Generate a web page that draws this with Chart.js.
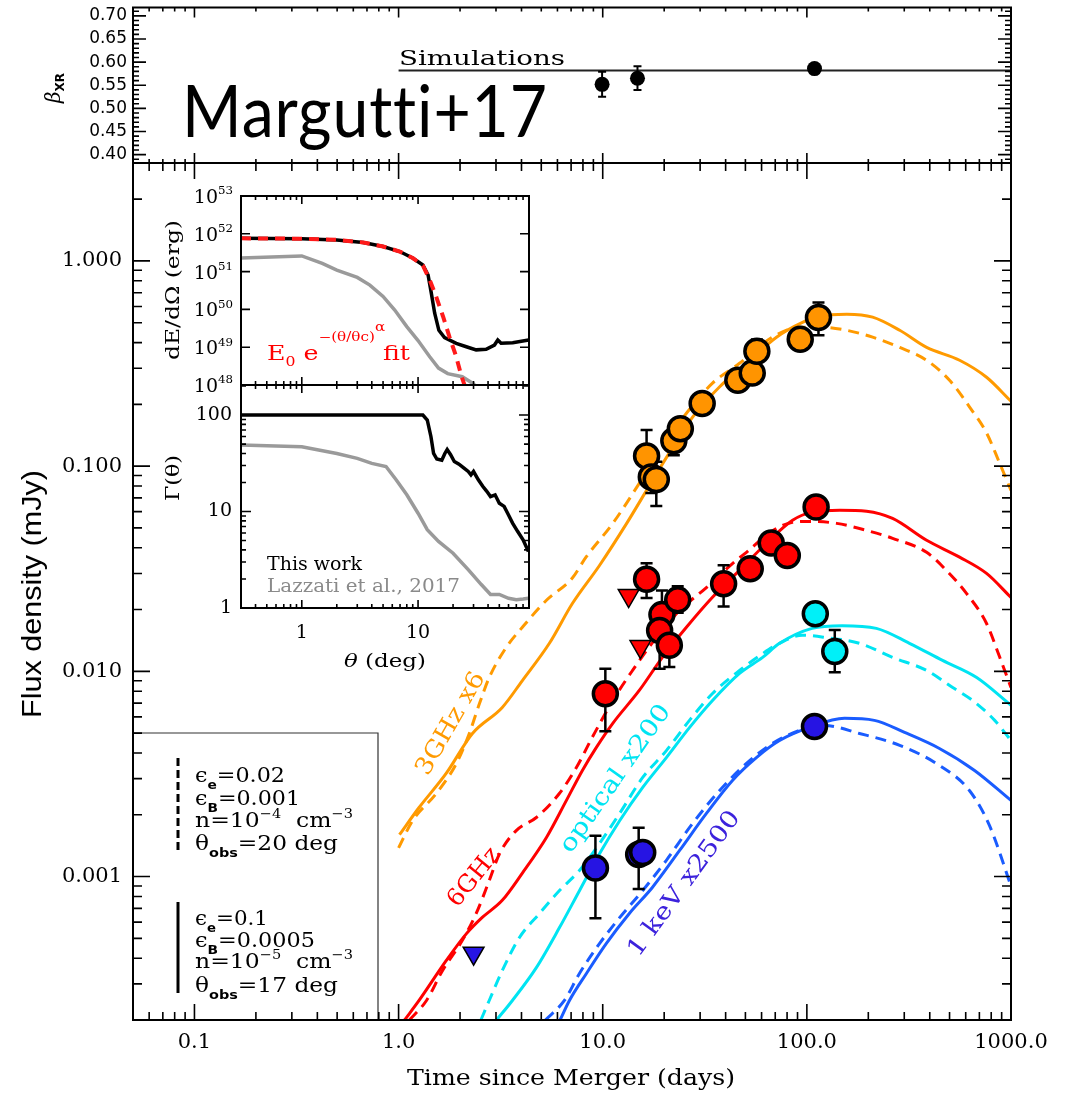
<!DOCTYPE html>
<html>
<head>
<meta charset="utf-8">
<title>GW170817 afterglow light curves</title>
<script src="https://cdn.jsdelivr.net/npm/chart.js@4.4.1/dist/chart.umd.min.js"></script>
<style>
  body { margin: 0; background: #fff; }
  #wrap { position: relative; width: 1078px; height: 1094px; }
  #wrap canvas { position: absolute; left: 0; top: 0; }
</style>
</head>
<body>
<div id="wrap">
  <canvas id="lightCurves" width="1078" height="1094"></canvas>
  <canvas id="betaPanel" width="1078" height="1094"></canvas>
  <canvas id="energyPanel" width="1078" height="1094"></canvas>
  <canvas id="lorentzPanel" width="1078" height="1094"></canvas>
</div>
<script>
var W = 1078, H = 1094;
var SERIF = 'DejaVu Serif';

// ---- observations: days since merger, flux density (mJy) ----
var radio3Days = [16.4, 17.3, 18.3, 22.3, 24.0, 30.7, 45.9, 54.0, 56.9, 92.8, 114];
var radio3Flux = [0.112, 0.0885, 0.086, 0.133, 0.152, 0.202, 0.262, 0.284, 0.363, 0.415, 0.530];
var radio3Lo   = [0.085, 0.074, 0.064, 0.113, null, null, null, null, 0.340, null, 0.434];
var radio3Hi   = [0.150, 0.100, 0.105, 0.152, null, null, null, null, 0.414, null, 0.627];

var radio6Days = [10.3, 16.4, 19.5, 19.0, 23.3, 21.2, 39.1, 52.8, 66.9, 80.2, 111];
var radio6Flux = [0.00778, 0.0281, 0.0189, 0.0158, 0.0223, 0.0134, 0.0267, 0.0316, 0.0422, 0.0367, 0.0632];
var radio6Lo   = [0.0051, 0.0228, null, 0.0103, 0.0193, 0.0105, 0.0207, 0.0295, null, null, null];
var radio6Hi   = [0.0103, 0.0336, 0.0248, null, 0.0260, null, 0.0329, 0.0340, null, null, null];
var radio6LimDays = [13.4, 15.3];
var radio6LimFlux = [0.0234, 0.0132];

var opticalDays = [110, 137];
var opticalFlux = [0.0191, 0.0125];
var opticalLo   = [null, 0.0099];
var opticalHi   = [null, 0.0159];

var xrayDays = [9.21, 15.0, 15.7, 109];
var xrayFlux = [0.00110, 0.00128, 0.00131, 0.00538];
var xrayLo   = [0.000626, 0.00087, null, null];
var xrayHi   = [0.00158, 0.00173, null, null];
var xrayLimDays = [2.33];
var xrayLimFlux = [0.000423];

// ---- model light curves (solid: this work, dashed: alternative parameters) ----
var orangeSolidDays = [1.01, 1.26, 1.71, 2.30, 3.22, 4.04, 5.48, 7.10, 9.64, 13.1, 16.4, 20.5, 27.5, 37.3, 50.6, 71.0, 95.2, 115, 157, 210, 285, 386, 560, 759, 1000];
var orangeSolidFlux = [0.0016, 0.00217, 0.00318, 0.00498, 0.00667, 0.00902, 0.0137, 0.0214, 0.0328, 0.0526, 0.0762, 0.110, 0.173, 0.243, 0.317, 0.425, 0.502, 0.537, 0.550, 0.532, 0.459, 0.379, 0.328, 0.271, 0.207];
var orangeDashDays = [1.0, 1.17, 1.53, 1.92, 2.22, 2.49, 2.78, 3.37, 4.04, 5.30, 7.10, 8.28, 11.2, 15.1, 19.0, 25.7, 34.4, 46.8, 67.8, 92.1, 119, 157, 210, 285, 386, 500, 627, 759, 881, 1000];
var orangeDashFlux = [0.00138, 0.00187, 0.00254, 0.00356, 0.00498, 0.00697, 0.00933, 0.0131, 0.0164, 0.0222, 0.0285, 0.036, 0.0526, 0.0824, 0.119, 0.181, 0.253, 0.317, 0.425, 0.475, 0.475, 0.459, 0.425, 0.379, 0.328, 0.262, 0.194, 0.145, 0.103, 0.0762];

var redSolidDays = [1.07, 1.26, 1.71, 2.15, 2.57, 3.22, 4.04, 5.30, 6.64, 7.95, 9.31, 11.2, 15.1, 19.6, 25.7, 34.4, 45.2, 63.4, 85.1, 106, 145, 196, 263, 386, 560, 759, 1000];
var redSolidFlux = [0.0002, 0.000249, 0.000389, 0.000527, 0.000632, 0.000766, 0.00104, 0.00155, 0.00235, 0.00329, 0.00426, 0.00558, 0.00807, 0.0117, 0.0164, 0.0229, 0.030, 0.0421, 0.0545, 0.0597, 0.061, 0.0603, 0.0556, 0.0435, 0.036, 0.030, 0.0229];
var redDashDays = [1.13, 1.37, 1.64, 2.05, 2.40, 2.78, 3.12, 3.78, 4.73, 6.13, 7.43, 8.89, 11.2, 14.0, 18.3, 23.8, 32.2, 43.2, 50.6, 68.2, 85.1, 103, 140, 196, 263, 386, 483, 605, 759, 881, 1000];
var redDashFlux = [0.0002, 0.000249, 0.000348, 0.000488, 0.000661, 0.000955, 0.00129, 0.00168, 0.00194, 0.00254, 0.0034, 0.00477, 0.00721, 0.0101, 0.0146, 0.0198, 0.0256, 0.0335, 0.038, 0.0486, 0.0532, 0.0538, 0.0526, 0.0486, 0.0445, 0.038, 0.031, 0.024, 0.0171, 0.0117, 0.00834];

var cyanSolidDays = [3.02, 3.61, 4.73, 6.14, 7.69, 9.64, 12.1, 15.7, 20.5, 26.6, 34.5, 46.8, 60.7, 73.5, 106, 149, 219, 318, 462, 679, 1000];
var cyanSolidFlux = [0.0002, 0.000249, 0.00036, 0.000564, 0.000853, 0.00129, 0.00187, 0.00272, 0.0038, 0.00532, 0.00721, 0.00977, 0.0117, 0.0137, 0.0162, 0.0167, 0.0162, 0.0137, 0.0113, 0.00933, 0.00683];
var cyanDashDays = [2.53, 2.78, 3.22, 3.91, 4.90, 6.14, 7.69, 9.64, 12.1, 15.7, 20.5, 26.6, 34.5, 46.8, 60.7, 73.5, 95.1, 125, 181, 263, 386, 518, 649, 832, 1000];
var cyanDashFlux = [0.0002, 0.000249, 0.000348, 0.000505, 0.000661, 0.000855, 0.00107, 0.00145, 0.00203, 0.00304, 0.00411, 0.00577, 0.0078, 0.0101, 0.0122, 0.0137, 0.015, 0.0146, 0.0137, 0.0117, 0.0101, 0.00834, 0.00721, 0.00577, 0.0046];

var blueSolidDays = [6.18, 6.87, 8.32, 10.4, 13.5, 17.5, 23.8, 32.2, 43.2, 56.6, 73.5, 103, 153, 214, 301, 446, 663, 1000];
var blueSolidFlux = [0.0002, 0.000249, 0.000337, 0.000471, 0.000661, 0.000885, 0.00134, 0.00203, 0.00294, 0.0038, 0.0046, 0.00533, 0.0059, 0.00577, 0.00504, 0.00421, 0.00329, 0.00235];
var blueDashDays = [5.24, 6.49, 7.69, 9.64, 12.1, 15.7, 20.5, 27.5, 37.3, 50.6, 67.8, 92.1, 122, 181, 285, 446, 627, 785, 1000];
var blueDashFlux = [0.0002, 0.000249, 0.000337, 0.000471, 0.000631, 0.000855, 0.0012, 0.00181, 0.00262, 0.00356, 0.00445, 0.00515, 0.00545, 0.00498, 0.00436, 0.00348, 0.00262, 0.00177, 0.0009];

// ---- spectral index panel ----
var betaDays = [9.93, 14.8, 109];
var betaValues = [0.552, 0.565, 0.586];
var betaLo = [0.525, 0.540, 0.580];
var betaHi = [0.579, 0.591, 0.592];
var simDays = [1, 1000];
var simBeta = [0.582, 0.582];
var betaTicks = [0.40, 0.45, 0.50, 0.55, 0.60, 0.65, 0.70];

// ---- inset: jet structure vs angle (deg) ----
var energyTheta = [0.3, 1.0, 2.0, 3.38, 5.0, 6.96, 9.06, 11.0, 12.2, 13.0, 13.9, 15.1, 16.9, 21.3, 26.0, 31.6, 38.5, 45.4, 48.5, 51.8, 65.2, 89.4];
var energyThis = [7.6e51, 7.4e51, 6.9e51, 5.9e51, 4.6e51, 3.4e51, 2.25e51, 1.5e51, 8.1e50, 2.7e50, 7.9e49, 2.8e49, 1.8e49, 1.26e49, 1.03e49, 8.5e48, 8.8e48, 1.14e49, 1.55e49, 1.27e49, 1.31e49, 1.55e49];
var fitTheta = [0.3, 1.0, 2.0, 3.38, 5.0, 6.96, 9.06, 11.0, 12.6, 14.3, 16.4, 18.6, 21.3, 23.5, 25.1, 27.0];
var fitEnergy = [7.6e51, 7.4e51, 6.9e51, 5.9e51, 4.6e51, 3.4e51, 2.25e51, 1.45e51, 6.0e50, 2.2e50, 6.5e49, 1.9e49, 5.6e48, 1.8e48, 1.0e48, 4.0e47];
var lazzatiTheta = [0.3, 1.0, 1.5, 2.0, 3.0, 3.85, 5.0, 6.3, 8.0, 10, 12.6, 15, 18, 24, 30, 33];
var lazzatiEnergy = [2.3e51, 2.6e51, 1.65e51, 1.1e51, 7.0e50, 4.4e50, 2.2e50, 9.6e49, 3.5e49, 1.5e49, 5.6e48, 2.8e48, 2.0e48, 1.66e48, 1.07e48, 7.4e47];

var gammaTheta = [0.3, 11.0, 12.0, 12.9, 13.6, 14.5, 16.0, 17.0, 17.8, 19.0, 20.5, 22.5, 25, 27, 28.5, 30, 33, 36, 39, 42, 46, 50, 55, 60, 65, 72, 80, 89];
var gammaThis = [100, 100, 89, 60, 40, 35, 34, 40, 44, 39, 33, 31, 28, 26, 24, 26, 21.3, 18.3, 16.2, 14.3, 14.9, 12.2, 11.3, 9.2, 7.6, 6.2, 5.1, 3.85];
var lazzatiGammaTheta = [0.3, 1.0, 2.0, 3.0, 4.0, 5.3, 6.5, 8, 10, 12, 15, 20, 27, 35, 42, 50, 60, 70, 80, 89];
var lazzatiGamma = [49, 47, 40, 35.6, 31.6, 29.3, 21.2, 14.9, 9.6, 6.5, 4.9, 3.7, 2.5, 1.75, 1.38, 1.38, 1.26, 1.22, 1.24, 1.26];

var ORANGE = '#ff9a00', RED = '#ff0000', CYAN = '#00e4f2', BLUE = '#1a5cff';
var BLUE_PT = '#2614e3', GRAY = '#9a9a9a';

function xy(xs, ys) {
    return xs.map(function (x, i) { return { x: x, y: ys[i] }; });
}

// major / minor tick values for an axis
function tickValues(spec, lo, hi) {
    var major = [], minor = [];
    if (spec.log) {
        for (var d = Math.floor(Math.log10(lo)); d <= Math.ceil(Math.log10(hi)); d++) {
            for (var k = 1; k < 10; k++) {
                var v = k * Math.pow(10, d);
                if (v < lo * 0.9999 || v > hi * 1.0001) continue;
                if (k === 1) major.push(v);
                else if (!spec.noMinor) minor.push(v);
            }
        }
    } else {
        var n0 = Math.ceil(lo / spec.minorStep - 1e-6);
        for (var n = n0; n * spec.minorStep <= hi + 1e-9; n++) {
            var val = n * spec.minorStep;
            var r = val / spec.step;
            if (Math.abs(r - Math.round(r)) < 1e-6) major.push(val); else minor.push(val);
        }
    }
    return { major: major, minor: minor };
}

function drawAxisTicks(ctx, scale, a, spec, horizontal) {
    var t = tickValues(spec, scale.min, scale.max);
    ['major', 'minor'].forEach(function (kind) {
        var len = spec[kind];
        t[kind].forEach(function (v) {
            var p = scale.getPixelForValue(v);
            if (horizontal) {
                ctx.moveTo(p, a.bottom); ctx.lineTo(p, a.bottom - len);
                if (spec.top !== false) { ctx.moveTo(p, a.top); ctx.lineTo(p, a.top + len); }
            } else {
                ctx.moveTo(a.left, p); ctx.lineTo(a.left + len, p);
                ctx.moveTo(a.right, p); ctx.lineTo(a.right - len, p);
            }
        });
    });
}

// inward IDL-style ticks and the frame
var axisTicks = {
    id: 'axisTicks',
    afterDatasetsDraw: function (chart, args, opts) {
        if (!opts || !opts.x) return;
        var ctx = chart.ctx, a = chart.chartArea;
        ctx.save();
        ctx.strokeStyle = '#000';
        ctx.lineWidth = opts.width || 1.6;
        ctx.beginPath();
        drawAxisTicks(ctx, chart.scales.x, a, opts.x, true);
        drawAxisTicks(ctx, chart.scales.y, a, opts.y, false);
        ctx.stroke();
        ctx.lineWidth = opts.border || 2;
        ctx.strokeRect(a.left, a.top, a.right - a.left, a.bottom - a.top);
        ctx.restore();
    }
};

// vertical error bars, drawn just before the points of their dataset
var errorBars = {
    id: 'errorBars',
    beforeDatasetDraw: function (chart, args) {
        var ds = chart.data.datasets[args.index];
        if (!ds.errLo) return;
        var ctx = chart.ctx, xs = chart.scales.x, ys = chart.scales.y;
        var cap = ds.errCap || 6;
        ctx.save();
        ctx.strokeStyle = '#000';
        ctx.lineWidth = ds.errWidth || 2.5;
        ds.data.forEach(function (p, i) {
            var lo = ds.errLo[i], hi = ds.errHi[i];
            if (lo == null && hi == null) return;
            var px = xs.getPixelForValue(p.x);
            var y0 = ys.getPixelForValue(lo == null ? p.y : lo);
            var y1 = ys.getPixelForValue(hi == null ? p.y : hi);
            ctx.beginPath();
            ctx.moveTo(px, y0); ctx.lineTo(px, y1);
            if (lo != null) { ctx.moveTo(px - cap, y0); ctx.lineTo(px + cap, y0); }
            if (hi != null) { ctx.moveTo(px - cap, y1); ctx.lineTo(px + cap, y1); }
            ctx.stroke();
        });
        ctx.restore();
    }
};
Chart.register(axisTicks, errorBars);

// text runs with sub/superscripts; o.width squeezes/stretches the run to that width
function richText(ctx, parts, x, y, o) {
    var size = o.size, fam = o.family || SERIF;
    function fontOf(p) {
        var s = p.small ? size * (p.scale || 0.62) : size;
        return (p.italic ? 'italic ' : '') + (p.bold ? 'bold ' : '') + s.toFixed(1) + 'px "' + (p.family || fam) + '"';
    }
    ctx.save();
    if (o.spacing && 'letterSpacing' in ctx) ctx.letterSpacing = o.spacing;
    var total = 0;
    parts.forEach(function (p) {
        ctx.font = fontOf(p);
        p.w = ctx.measureText(p.t).width;
        if (!p.noAdvance) total += p.w;
    });
    var sx = o.width ? o.width / total : 1;
    ctx.translate(x, y);
    if (o.rotate) ctx.rotate(o.rotate * Math.PI / 180);
    ctx.scale(sx, 1);
    ctx.fillStyle = o.color || '#000';
    ctx.textBaseline = o.baseline || 'alphabetic';
    ctx.textAlign = 'left';
    var cx = o.align === 'center' ? -total / 2 : (o.align === 'right' ? -total : 0);
    parts.forEach(function (p) {
        ctx.font = fontOf(p);
        ctx.fillText(p.t, cx, p.dy ? p.dy * size : 0);
        if (!p.noAdvance) cx += p.w;
    });
    ctx.restore();
}
function plain(t) { return [{ t: t }]; }
function sub(t) { return { t: t, small: true, bold: true, dy: 0.32, family: 'DejaVu Sans' }; }
function sup(t) { return { t: t, small: true, dy: -0.45 }; }

function logAxis(min, max, ticks, fmt, font, pad) {
    return {
        type: 'logarithmic', min: min, max: max,
        grid: { display: false, drawTicks: false },
        border: { display: false },
        ticks: { font: { family: SERIF, size: font }, color: '#000', padding: pad, autoSkip: false, maxRotation: 0, callback: fmt },
        afterBuildTicks: function (s) { s.ticks = ticks.map(function (v) { return { value: v }; }); }
    };
}

function curve(days, flux, color, dashed) {
    return {
        data: xy(days, flux), showLine: true, borderColor: color, borderWidth: 3,
        borderDash: dashed ? [11, 7] : [], pointRadius: 0, fill: false,
        cubicInterpolationMode: 'monotone'
    };
}
function dots(days, flux, fill, lo, hi) {
    return {
        data: xy(days, flux), pointRadius: 12, pointHoverRadius: 12,
        pointBackgroundColor: fill, pointBorderColor: '#000', pointBorderWidth: 3.5,
        errLo: lo, errHi: hi, errWidth: 2.5, errCap: 6
    };
}
function limits(days, flux, fill) {
    return {
        data: xy(days, flux), pointStyle: 'triangle', rotation: 180, pointRadius: 12,
        pointBackgroundColor: fill, pointBorderColor: '#000', pointBorderWidth: 1.5
    };
}

// rotated band labels, anchored in data space
var bandLabels = [
    { text: '3GHz x6', day: 1.81, flux: 0.00555, angle: -60, color: ORANGE, width: 115 },
    { text: '6GHz', day: 2.35, flux: 0.00099, angle: -51, color: RED, width: 69 },
    { text: 'optical x200', day: 11.6, flux: 0.00299, angle: -55, color: CYAN, width: 175 },
    { text: '1 keV x2500', day: 25.2, flux: 0.00092, angle: -54, color: '#3c22dc', width: 174 }
];

var lightCurveDecor = {
    id: 'lightCurveDecor',
    beforeDatasetsDraw: function (chart) {
        var ctx = chart.ctx, a = chart.chartArea;
        var boxR = a.left + 245, boxT = a.bottom - 287;
        ctx.save();
        ctx.fillStyle = '#fff';
        ctx.fillRect(a.left, boxT, boxR - a.left, a.bottom - boxT);
        ctx.strokeStyle = '#333';
        ctx.lineWidth = 1.2;
        ctx.beginPath();
        ctx.moveTo(a.left, boxT); ctx.lineTo(boxR, boxT); ctx.lineTo(boxR, a.bottom);
        ctx.stroke();
        ctx.strokeStyle = '#000';
        ctx.lineWidth = 3;
        ctx.setLineDash([8, 4]);
        ctx.beginPath(); ctx.moveTo(178, 758); ctx.lineTo(178, 850); ctx.stroke();
        ctx.setLineDash([]);
        ctx.beginPath(); ctx.moveTo(178, 902); ctx.lineTo(178, 993); ctx.stroke();
        ctx.restore();

        var eps = { t: 'ϵ' }, th = { t: 'θ' };
        var rows = [
            [[eps, sub('e'), { t: '=0.02' }], 782, 90],
            [[eps, sub('B'), { t: '=0.001' }], 805, 105],
            [[{ t: 'n=10' }, sup('−4'), { t: '  cm' }, sup('−3')], 827, 158],
            [[th, sub('obs'), { t: '=20 deg' }], 850, 143],
            [[eps, sub('e'), { t: '=0.1' }], 925, 73],
            [[eps, sub('B'), { t: '=0.0005' }], 947, 120],
            [[{ t: 'n=10' }, sup('−5'), { t: '  cm' }, sup('−3')], 968, 158],
            [[th, sub('obs'), { t: '=17 deg' }], 992, 143]
        ];
        rows.forEach(function (r) {
            richText(ctx, r[0], 195, r[1], { size: 21, width: r[2] });
        });
    },
    afterDatasetsDraw: function (chart) {
        var ctx = chart.ctx, xs = chart.scales.x, ys = chart.scales.y;
        bandLabels.forEach(function (l) {
            richText(ctx, plain(l.text), xs.getPixelForValue(l.day), ys.getPixelForValue(l.flux),
                { size: 24, rotate: l.angle, color: l.color, align: 'center', baseline: 'middle', width: l.width });
        });
    },
    afterDraw: function (chart) {
        var ctx = chart.ctx;
        richText(ctx, plain('Time since Merger (days)'), 571, 1085, { size: 23, align: 'center', width: 328 });
        richText(ctx, plain('Flux density (mJy)'), 33, 594, { size: 28, family: 'Liberation Sans', rotate: -90, align: 'center', baseline: 'middle', width: 248 });
    }
};

new Chart(document.getElementById('lightCurves'), {
    type: 'scatter',
    data: {
        datasets: [
            dots(xrayDays, xrayFlux, BLUE_PT, xrayLo, xrayHi),
            dots(opticalDays, opticalFlux, '#00f0f8', opticalLo, opticalHi),
            dots(radio6Days, radio6Flux, RED, radio6Lo, radio6Hi),
            dots(radio3Days, radio3Flux, '#ff9400', radio3Lo, radio3Hi),
            limits(radio6LimDays, radio6LimFlux, RED),
            limits(xrayLimDays, xrayLimFlux, BLUE_PT),
            curve(orangeSolidDays, orangeSolidFlux, ORANGE, false),
            curve(orangeDashDays, orangeDashFlux, ORANGE, true),
            curve(redSolidDays, redSolidFlux, RED, false),
            curve(redDashDays, redDashFlux, RED, true),
            curve(cyanSolidDays, cyanSolidFlux, CYAN, false),
            curve(cyanDashDays, cyanDashFlux, CYAN, true),
            curve(blueSolidDays, blueSolidFlux, BLUE, false),
            curve(blueDashDays, blueDashFlux, BLUE, true)
        ]
    },
    options: {
        responsive: false, animation: false, devicePixelRatio: 1,
        layout: { padding: { left: 0, top: 163, right: W - 1011, bottom: 0 } },
        plugins: {
            legend: { display: false }, tooltip: { enabled: false },
            axisTicks: {
                x: { log: true, major: 16, minor: 8 },
                y: { log: true, major: 17, minor: 9 }
            }
        },
        scales: {
            x: Object.assign(logAxis(0.05, 1000, [0.1, 1, 10, 100, 1000], function (v) { return Number(v).toFixed(1); }, 21, 10), {
                afterFit: function (s) { s.height = H - 1020; s.paddingLeft = 0; s.paddingRight = 0; }
            }),
            y: Object.assign(logAxis(2e-4, 3, [0.001, 0.01, 0.1, 1], function (v) { return Number(v).toFixed(3); }, 21, 11), {
                afterFit: function (s) { s.width = 133; s.paddingTop = 0; s.paddingBottom = 0; }
            })
        }
    },
    plugins: [lightCurveDecor]
});

// ---- beta_XR panel ----
var betaDecor = {
    id: 'betaDecor',
    afterDraw: function (chart) {
        var ctx = chart.ctx;
        richText(ctx, plain('Simulations'), 399, 65, { size: 20, width: 166 });
        richText(ctx, plain('Margutti+17'), 182, 137, { size: 72, family: 'Lato', width: 366, spacing: '1px' });
        richText(ctx, [{ t: 'β', italic: true }, { t: 'XR', small: true, bold: true, dy: 0.3, scale: 0.6, family: 'DejaVu Sans' }],
            55, 88, { size: 20, rotate: -90, align: 'center', baseline: 'middle' });
    }
};

new Chart(document.getElementById('betaPanel'), {
    type: 'scatter',
    data: {
        datasets: [
            { data: xy(betaDays, betaValues), pointRadius: 7.5, pointBackgroundColor: '#000', pointBorderWidth: 0,
              errLo: betaLo, errHi: betaHi, errWidth: 2, errCap: 4 },
            { data: xy(simDays, simBeta), showLine: true, borderColor: '#222', borderWidth: 2, pointRadius: 0 }
        ]
    },
    options: {
        responsive: false, animation: false, devicePixelRatio: 1,
        layout: { padding: { left: 0, top: 7, right: W - 1011, bottom: H - 163 } },
        plugins: {
            legend: { display: false }, tooltip: { enabled: false },
            axisTicks: {
                x: { log: true, major: 10, minor: 4 },
                y: { step: 0.05, minorStep: 0.01, major: 13, minor: 6 }
            }
        },
        scales: {
            x: { type: 'logarithmic', min: 0.05, max: 1000, display: false },
            y: {
                type: 'linear', min: 0.382, max: 0.718,
                grid: { display: false, drawTicks: false }, border: { display: false },
                ticks: { font: { family: 'DejaVu Sans', size: 17 }, color: '#000', padding: 6, callback: function (v) { return Number(v).toFixed(2); } },
                afterBuildTicks: function (s) { s.ticks = betaTicks.map(function (v) { return { value: v }; }); },
                afterFit: function (s) { s.width = 133; s.paddingTop = 0; s.paddingBottom = 0; }
            }
        }
    },
    plugins: [betaDecor]
});

// ---- inset, upper: energy per solid angle ----
var energyDecor = {
    id: 'energyDecor',
    afterDraw: function (chart) {
        var ctx = chart.ctx, ys = chart.scales.y;
        for (var d = 48; d <= 53; d++) {
            richText(ctx, [{ t: '10' }, sup(String(d))], 233, ys.getPixelForValue(Math.pow(10, d)) + 7, { size: 19, align: 'right' });
        }
        richText(ctx, plain('dE/dΩ (erg)'), 174, 290, { size: 18, rotate: -90, align: 'center', baseline: 'middle', width: 140 });
        richText(ctx, [{ t: 'E' }, { t: '0', small: true, dy: 0.3 }, { t: ' e' },
            { t: '−(θ/θc)', small: true, scale: 0.6, dy: -0.95 },
            { t: 'α', small: true, scale: 0.6, dy: -1.45, noAdvance: true },
            { t: ' fit' }], 267, 360, { size: 20, color: RED, width: 143 });
    }
};

new Chart(document.getElementById('energyPanel'), {
    type: 'scatter',
    data: {
        datasets: [
            { data: xy(fitTheta, fitEnergy), showLine: true, borderColor: '#ff1a1a', borderWidth: 4, borderDash: [10, 7], pointRadius: 0 },
            { data: xy(energyTheta, energyThis), showLine: true, borderColor: '#000', borderWidth: 3.5, pointRadius: 0 },
            { data: xy(lazzatiTheta, lazzatiEnergy), showLine: true, borderColor: GRAY, borderWidth: 3.5, pointRadius: 0 }
        ]
    },
    options: {
        responsive: false, animation: false, devicePixelRatio: 1,
        layout: { padding: { left: 241, top: 196, right: W - 529, bottom: H - 385 } },
        plugins: {
            legend: { display: false }, tooltip: { enabled: false },
            axisTicks: {
                x: { log: true, major: 8, minor: 4 },
                y: { log: true, noMinor: true, major: 9, minor: 0 }
            }
        },
        scales: {
            x: { type: 'logarithmic', min: 0.3, max: 90, display: false },
            y: { type: 'logarithmic', min: 1e48, max: 1e53, display: false }
        }
    },
    plugins: [energyDecor]
});

// ---- inset, lower: Lorentz factor ----
var lorentzDecor = {
    id: 'lorentzDecor',
    afterDraw: function (chart) {
        var ctx = chart.ctx;
        richText(ctx, [{ t: 'Γ(θ)' }], 174, 478, { size: 18, rotate: -90, align: 'center', baseline: 'middle', width: 46 });
        richText(ctx, [{ t: 'θ', italic: true }, { t: ' (deg)' }], 385, 667, { size: 19, align: 'center', width: 82 });
        richText(ctx, plain('This work'), 267, 570, { size: 19, width: 95 });
        richText(ctx, plain('Lazzati et al., 2017'), 267, 592, { size: 19, width: 193, color: '#8a8a8a' });
    }
};

new Chart(document.getElementById('lorentzPanel'), {
    type: 'scatter',
    data: {
        datasets: [
            { data: xy(gammaTheta, gammaThis), showLine: true, borderColor: '#000', borderWidth: 3.5, pointRadius: 0 },
            { data: xy(lazzatiGammaTheta, lazzatiGamma), showLine: true, borderColor: GRAY, borderWidth: 3.5, pointRadius: 0 }
        ]
    },
    options: {
        responsive: false, animation: false, devicePixelRatio: 1,
        layout: { padding: { left: 0, top: 385, right: W - 529, bottom: 0 } },
        plugins: {
            legend: { display: false }, tooltip: { enabled: false },
            axisTicks: {
                x: { log: true, major: 8, minor: 4 },
                y: { log: true, major: 10, minor: 5 }
            }
        },
        scales: {
            x: Object.assign(logAxis(0.3, 90, [1, 10], function (v) { return String(v); }, 19, 14), {
                afterFit: function (s) { s.height = H - 608; s.paddingLeft = 0; s.paddingRight = 0; }
            }),
            y: Object.assign(logAxis(1, 205, [1, 10, 100], function (v) { return String(v); }, 19, 9), {
                afterFit: function (s) { s.width = 241; s.paddingTop = 0; s.paddingBottom = 0; }
            })
        }
    },
    plugins: [lorentzDecor]
});
</script>
</body>
</html>
